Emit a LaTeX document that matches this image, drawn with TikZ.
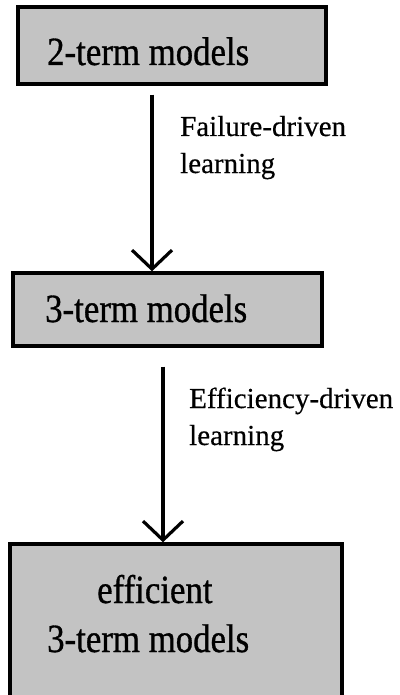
\documentclass[tikz,border=0pt]{standalone}
\usepackage{fontspec}
\setmainfont{Liberation Serif}
\newfontfamily\boxfont[FakeStretch=0.87,FakeBold=0.8]{Liberation Serif}
\newfontfamily\lblfont[FakeBold=0.4]{Liberation Serif}
\usetikzlibrary{arrows.meta}
\definecolor{boxgray}{RGB}{195,195,195}
\tikzset{
  modelbox/.style={draw=black, line width=3.4pt, fill=boxgray, rectangle, inner sep=0pt},
  boxtext/.style={font=\boxfont\fontsize{40}{49}\selectfont, inner sep=0pt, anchor=base west, align=left},
  lbl/.style={font=\lblfont\fontsize{29}{37}\selectfont, inner sep=0pt, anchor=base west, align=left},
  arr/.style={line width=3.2pt, -{Straight Barb[length=19pt,width=40pt,line width=3.2pt]}}
}
\begin{document}
\begin{tikzpicture}[x=1pt,y=-1pt]
\useasboundingbox (0,0) rectangle (399,695);
\fill[white] (0,0) rectangle (399,695);
\node[modelbox, minimum width=308pt, minimum height=77pt] (b1) at (172,45.5) {};
\node[modelbox, minimum width=309pt, minimum height=73pt] (b2) at (167.5,309.5) {};
\node[modelbox, minimum width=332pt, minimum height=176pt] (b3) at (176,632) {};
\node[boxtext] (t1) at (47,65) {2-term models};
\node[boxtext] (t2) at (45,322) {3-term models};
\node[boxtext] (t3a) at (97,603) {efficient};
\node[boxtext] (t3b) at (47,652) {3-term models};
\draw[arr] ([xshift=-20pt,yshift=-9pt]b1.south) -- ([xshift=-15.5pt]b2.north);
\draw[arr] ([xshift=-4.5pt,yshift=-19pt]b2.south) -- ([xshift=-13pt]b3.north);
\node[lbl] (l1) at (180,173) {Failure-driven\\learning};
\node[lbl] (l2) at (189,445) {Efficiency-driven\\learning};
\end{tikzpicture}
\end{document}
